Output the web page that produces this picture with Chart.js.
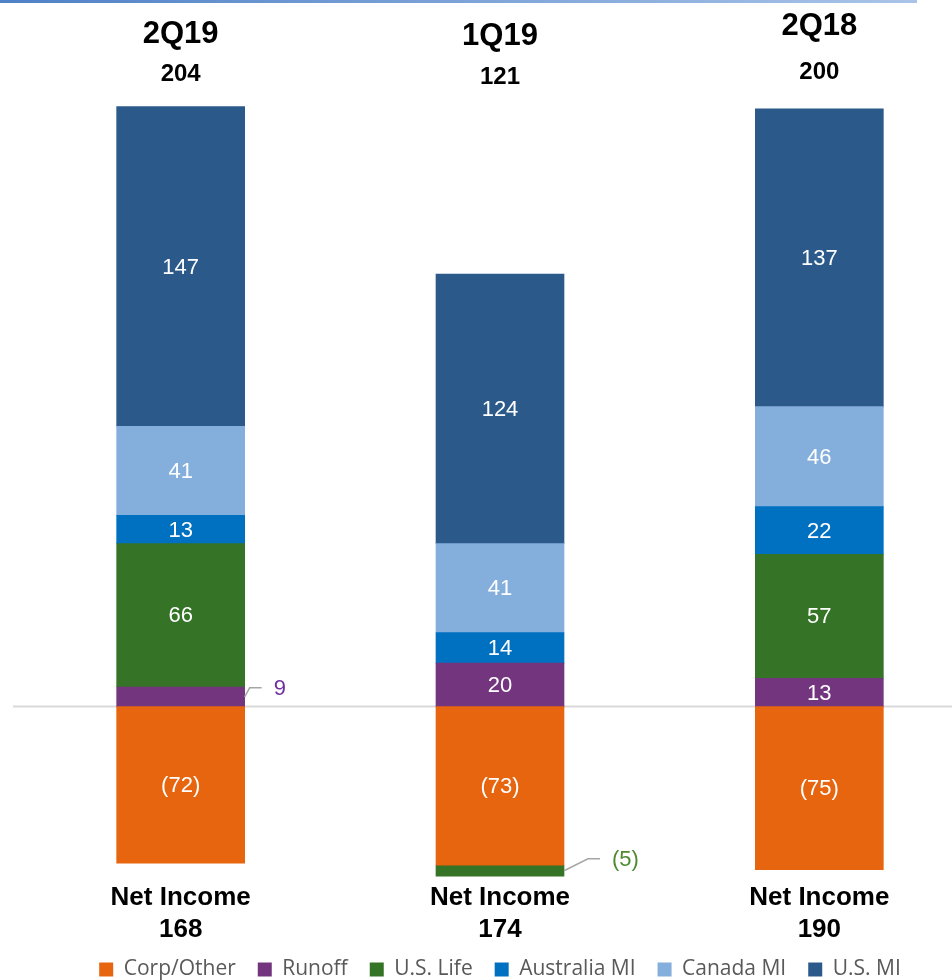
<!DOCTYPE html>
<html><head><meta charset="utf-8">
<script src="https://cdn.jsdelivr.net/npm/chart.js@4.4.1/dist/chart.umd.min.js"></script>
<style>
html,body{margin:0;padding:0;overflow:hidden;background:#fff;width:952px;height:980px}
#wrap{position:absolute;left:0;top:0;width:980px;height:990px}
</style>
</head><body><div id="wrap"><canvas id="c" width="980" height="990"></canvas></div>
<script>
// ---- data ----
const categories = ['2Q19', '1Q19', '2Q18'];
const seriesNames = ['Corp/Other', 'Runoff', 'U.S. Life', 'Australia MI', 'Canada MI', 'U.S. MI'];
const corpOther   = [-72, -73, -75];
const runoff      = [9, 20, 13];
const usLife      = [66, -5, 57];
const australiaMI = [13, 14, 22];
const canadaMI    = [41, 41, 46];
const usMI        = [147, 124, 137];
const operatingTotals = [204, 121, 200];
const netIncome   = [168, 174, 190];

// ---- styles ----
const fills = ['#E8650F', '#74357F', '#357326', '#0070C0', '#84AEDB', '#2B5A8A'];
const outsideText = ['#E8650F', '#7030A0', '#4E8B30', '#0070C0', '#84AEDB', '#2B5A8A'];
const seriesData = [corpOther, runoff, usLife, australiaMI, canadaMI, usMI];

const fmt = v => v < 0 ? '(' + Math.abs(v) + ')' : String(v);

const deco = {
  id: 'deco',
  beforeDatasetsDraw(chart) {
    const ctx = chart.ctx, y0 = chart.scales.y.getPixelForValue(0);
    ctx.save();
    ctx.strokeStyle = '#D9D9D9'; ctx.lineWidth = 2;
    ctx.beginPath(); ctx.moveTo(13, y0); ctx.lineTo(chart.width, y0); ctx.stroke();
    const g = ctx.createLinearGradient(0, 0, 917, 0);
    g.addColorStop(0, '#4F81C7'); g.addColorStop(1, '#A9C4E8');
    ctx.fillStyle = g; ctx.fillRect(0, 0, 917, 3);
    ctx.restore();
  },
  afterDatasetsDraw(chart) {
    const ctx = chart.ctx;
    ctx.save();
    chart.data.datasets.forEach((ds, di) => {
      const meta = chart.getDatasetMeta(di);
      meta.data.forEach((bar, i) => {
        const v = ds.data[i];
        if (v === null || v === undefined) return;
        const top = Math.min(bar.y, bar.base), bot = Math.max(bar.y, bar.base);
        const h = bot - top, cy = (top + bot) / 2;
        ctx.font = '22px "Liberation Sans", Arial, sans-serif';
        ctx.textBaseline = 'middle';
        if (h >= 24) {
          ctx.fillStyle = '#FFFFFF'; ctx.textAlign = 'center';
          ctx.fillText(fmt(v), bar.x, cy + 1);
        } else {
          const right = bar.x + bar.width / 2;
          const dx = v < 0 ? 24 : 5, dy = v < 0 ? 12 : 9;
          ctx.strokeStyle = '#A6A6A6'; ctx.lineWidth = 1.5;
          ctx.beginPath();
          ctx.moveTo(right, cy);
          ctx.lineTo(right + dx, cy - dy);
          ctx.lineTo(right + dx + 12, cy - dy);
          ctx.stroke();
          ctx.fillStyle = outsideText[di]; ctx.textAlign = 'left';
          ctx.fillText(fmt(v), right + dx + 24, cy - dy + 1);
        }
      });
    });
    const xs = chart.scales.x;
    const titleDy = [0, 2, -8], totalDy = [0, 3, -2];
    ctx.fillStyle = '#000000'; ctx.textAlign = 'center'; ctx.textBaseline = 'middle';
    categories.forEach((c, i) => {
      const x = xs.getPixelForValue(i);
      ctx.font = 'bold 31px "Liberation Sans", Arial, sans-serif';
      ctx.fillText(c, x, 34 + titleDy[i]);
      ctx.font = 'bold 24px "Liberation Sans", Arial, sans-serif';
      ctx.fillText(String(operatingTotals[i]), x, 74 + totalDy[i]);
      ctx.font = 'bold 26px "Liberation Sans", Arial, sans-serif';
      ctx.fillText('Net Income', x, 898);
      ctx.fillText(String(netIncome[i]), x, 930);
    });
    ctx.restore();
  }
};

new Chart(document.getElementById('c'), {
  type: 'bar',
  data: {
    labels: categories,
    datasets: seriesNames.map((n, k) => ({
      label: n,
      data: seriesData[k],
      backgroundColor: fills[k],
      borderWidth: 0,
      barThickness: 128
    }))
  },
  options: {
    responsive: false,
    animation: false,
    devicePixelRatio: 1,
    layout: { padding: { top: 98, left: 21, right: 1, bottom: 0 } },
    scales: {
      x: { stacked: true, display: false },
      y: { stacked: true, display: false, min: -106, max: 280 }
    },
    plugins: {
      tooltip: { enabled: false },
      legend: {
        position: 'bottom',
        labels: {
          boxWidth: 14, boxHeight: 14, padding: 22, color: '#595959',
          font: { family: '"Open Sans", sans-serif', size: 21 }
        }
      }
    }
  },
  plugins: [deco]
});
</script>
</body></html>
